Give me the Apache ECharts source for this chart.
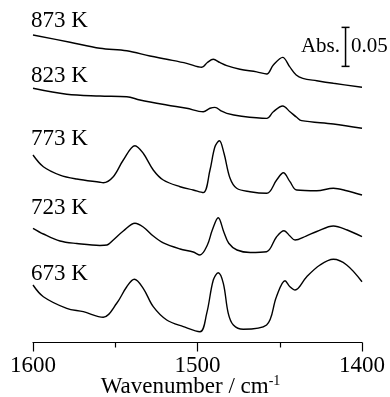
<!DOCTYPE html>
<html><head><meta charset="utf-8">
<script src="https://cdn.jsdelivr.net/npm/echarts@6/dist/echarts.min.js"></script>
<style>html,body{margin:0;padding:0;background:#fff}#c{width:390px;height:397px}</style>
</head><body><div id="c"></div>
<script>
// Wavenumber (cm-1) and displayed absorbance (with stacking offsets) for each spectrum
const wn873 = [1600,1577.5,1559.3,1543,1528.9,1518.7,1506.6,1497.4,1494,1490.4,1486.5,1482.2,1474.2,1464,1457.9,1453.9,1448.2,1444,1440,1436,1427.5,1417.4,1400];
const abs873 = [0.3942,0.3849,0.3772,0.3741,0.3673,0.3631,0.3579,0.3528,0.3590,0.3631,0.3590,0.3549,0.3503,0.3470,0.3442,0.3558,0.3656,0.3536,0.3429,0.3387,0.3356,0.3323,0.3272];

const wn823 = [1600,1579.5,1559.3,1543,1535,1518.7,1506.6,1496.5,1492.4,1489.4,1485.3,1482.2,1474.2,1457.9,1453.9,1448.2,1443.8,1439.7,1436.7,1417.4,1400];
const abs823 = [0.3259,0.3182,0.3160,0.3151,0.3109,0.3045,0.3003,0.2959,0.3003,0.3015,0.2965,0.2938,0.2904,0.2874,0.2959,0.3032,0.2959,0.2887,0.2844,0.2801,0.2746];

const wn773 = [1600,1593.7,1583.6,1573.4,1559.3,1557.3,1551.2,1545.1,1538,1533,1526.9,1520.8,1510.6,1502.6,1496.5,1492.4,1489.4,1486.7,1483.9,1480.2,1476.2,1468.1,1457.9,1451.9,1447.8,1443.8,1439.7,1427.5,1417.4,1409.3,1400];
const abs773 = [0.2404,0.2254,0.2147,0.2096,0.2054,0.2049,0.2126,0.2340,0.2523,0.2426,0.2212,0.2083,0.1997,0.1955,0.1921,0.2212,0.2510,0.2587,0.2426,0.2105,0.1977,0.1933,0.1913,0.2083,0.2177,0.2062,0.1955,0.1946,0.1977,0.1946,0.1891];

const wn723 = [1600,1593.7,1583.6,1573.4,1559.3,1555,1551.2,1545.1,1538,1533,1526.9,1520.8,1510.6,1502.6,1498.5,1494,1491,1487.4,1484,1481,1476,1468,1458,1452,1447.4,1443.8,1440.7,1434,1427.5,1417.4,1409,1400];
const abs723 = [0.1464,0.1391,0.1301,0.1269,0.1244,0.1250,0.1314,0.1429,0.1528,0.1481,0.1365,0.1276,0.1199,0.1160,0.1122,0.1250,0.1442,0.1600,0.1417,0.1272,0.1186,0.1154,0.1164,0.1353,0.1433,0.1365,0.1314,0.1365,0.1423,0.1494,0.1442,0.1356];

const wn673 = [1600,1593.7,1579.5,1569.4,1557.3,1549.1,1543,1538.4,1533,1526.9,1518.7,1508.6,1498.5,1494.4,1490.4,1487.4,1484.3,1481.3,1478.2,1472.2,1458,1452,1446.8,1443.8,1440.7,1433.6,1425.5,1417.4,1409.3,1400];
const abs673 = [0.0737,0.0587,0.0438,0.0395,0.0323,0.0503,0.0715,0.0810,0.0695,0.0459,0.0288,0.0203,0.0138,0.0374,0.0801,0.0895,0.0759,0.0374,0.0224,0.0169,0.0224,0.0587,0.0792,0.0715,0.0673,0.0844,0.0994,0.1067,0.0994,0.0779];

const xTicks = [1600, 1500, 1400];
const tempLabels = ['873 K','823 K','773 K','723 K','673 K'];
// scale bar: wavenumber, bottom, top (0.05 Abs)
const scaleBar = [[1410, 0.354, 0.404]];

const FONT = "'Liberation Serif','Times New Roman',serif";
const pairs = (w,a) => w.map((v,i)=>[v,a[i]]);
const spectra = [[wn873,abs873],[wn823,abs823],[wn773,abs773],[wn723,abs723],[wn673,abs673]];

const chart = echarts.init(document.getElementById('c'), null, {renderer:'canvas'});
const series = spectra.map(s => ({
  type:'line', data: pairs(s[0], s[1]), showSymbol:false, smooth:0.35,
  lineStyle:{color:'#000', width:1.4}, silent:true, animation:false
}));
series.push({
  type:'custom', data: scaleBar, animation:false, silent:true,
  renderItem: function(params, api){
    const b = api.coord([api.value(0), api.value(1)]);
    const t = api.coord([api.value(0), api.value(2)]);
    const st = {stroke:'#000', lineWidth:1.5};
    return {type:'group', children:[
      {type:'line', shape:{x1:b[0],y1:b[1],x2:t[0],y2:t[1]}, style:st},
      {type:'line', shape:{x1:b[0]-4,y1:b[1],x2:b[0]+4,y2:b[1]}, style:st},
      {type:'line', shape:{x1:t[0]-4,y1:t[1],x2:t[0]+4,y2:t[1]}, style:st}
    ]};
  }
});

const labelY = [21.3, 75.8, 139.2, 207.5, 274.2];
const graphics = tempLabels.map((t,i)=>({
  type:'text', left:31, top: labelY[i]-11.5,
  style:{text:t, font:'23px '+FONT, fill:'#000'}
}));
graphics.push({type:'text', right:390-340, top:35.5, style:{text:'Abs.', font:'21px '+FONT, fill:'#000', textAlign:'right'}});
graphics.push({type:'text', left:351, top:35.5, style:{text:'0.05', font:'21px '+FONT, fill:'#000'}});

chart.setOption({
  animation:false,
  grid:{left:33, right:28, top:0, bottom:54.5, containLabel:false, outerBoundsMode:'none'},
  xAxis:{
    type:'value', min:1400, max:1600, interval:100, inverse:true,
    axisLine:{show:true, lineStyle:{color:'#000', width:1.2}},
    axisTick:{show:true, inside:false, length:9, lineStyle:{color:'#000', width:1.2}},
    minorTick:{show:true, splitNumber:2, length:5, lineStyle:{color:'#000', width:1.2}},
    splitLine:{show:false},
    axisLabel:{color:'#000', fontFamily:FONT, fontSize:23, margin:12,
      formatter: v => xTicks.indexOf(v) >= 0 ? String(v) : ''},
    name:'{a|Wavenumber / cm}{s|-1}', nameLocation:'middle', nameGap:31.5, nameMoveOverlap:false,
    nameTextStyle:{padding:[0,14,0,0], rich:{
      a:{fontFamily:FONT, fontSize:23, color:'#000', lineHeight:26},
      s:{fontFamily:FONT, fontSize:14, color:'#000', verticalAlign:'top', lineHeight:14}
    }}
  },
  yAxis:{type:'value', min:0, max:0.4391, show:false},
  graphic: graphics,
  series: series
});
</script></body></html>
